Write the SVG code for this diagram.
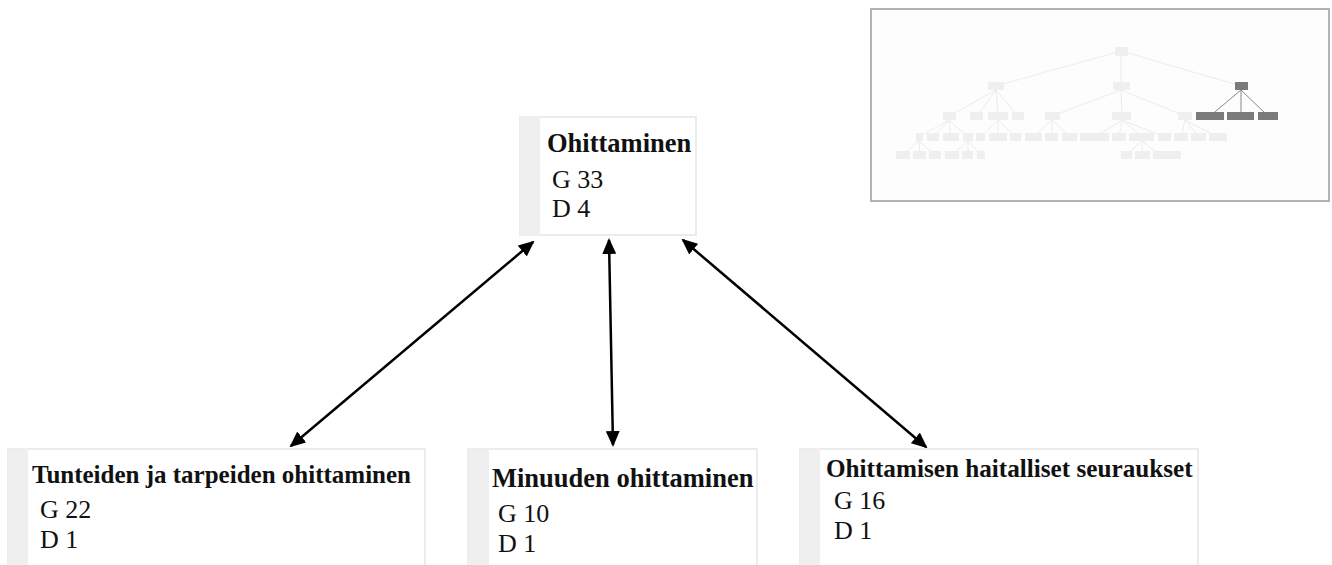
<svg xmlns="http://www.w3.org/2000/svg" width="1332" height="565" viewBox="0 0 1332 565">
<style>
.box{fill:#fff;stroke:#ececec;stroke-width:2}
.strip{fill:#efefef}
.title{font-family:"Liberation Serif",serif;font-weight:bold;fill:#111}
.val{font-family:"Liberation Serif",serif;font-size:26px;fill:#111}
.conn{stroke:#000;stroke-width:2.5;fill:none;marker-start:url(#ah);marker-end:url(#ah)}
.mm-l{fill:#efefef}
.mm-d{fill:#7b7b7b}
.mm-e{stroke:#ececec;stroke-width:1;fill:none}
.mm-ed{stroke:#888;stroke-width:1;fill:none}
</style>
<defs>
<marker id="ah" viewBox="0 0 16 14" refX="14" refY="7" markerWidth="16" markerHeight="14" markerUnits="userSpaceOnUse" orient="auto-start-reverse">
<path d="M0,0 L16,7 L0,14 Z" fill="#000"/>
</marker>
</defs>
<rect width="1332" height="565" fill="#fff"/>

<g id="minimap">
<rect x="871" y="9" width="458" height="192" fill="#fdfdfd" stroke="#b3b3b3" stroke-width="2"/>
<g class="mm-e">
<path d="M1121,51 L996,86 M1121,51 L1121,86 M1121,51 L1241,86"/>
<path d="M996,90 L949,116 M996,90 L977,116 M996,90 L998,116 M996,90 L1018,116"/>
<path d="M949,120 L919,137 M949,120 L933,137 M949,120 L951,137 M949,120 L968,137"/>
<path d="M919,141 L903,155 M919,141 L920,155 M919,141 L935,155"/>
<path d="M968,141 L952,155 M968,141 L968,155 M968,141 L981,155"/>
<path d="M998,120 L981,137 M998,120 L998,137 M998,120 L1016,137"/>
<path d="M1121,90 L1052,116 M1121,90 L1122,116 M1121,90 L1185,116"/>
<path d="M1052,120 L1033,137 M1052,120 L1052,137 M1052,120 L1070,137"/>
<path d="M1122,120 L1095,137 M1122,120 L1119,137 M1122,120 L1142,137 M1122,120 L1165,137"/>
<path d="M1142,141 L1126,155 M1142,141 L1142,155 M1142,141 L1160,155"/>
<path d="M1185,120 L1181,137 M1185,120 L1199,137 M1185,120 L1218,137"/>
</g>
<g class="mm-ed">
<path d="M1241,90 L1210,116 M1241,90 L1241,116 M1241,90 L1268,116"/>
</g>
<g class="mm-l">
<rect x="1115" y="47" width="13" height="9"/>
<rect x="988" y="82" width="16" height="8"/>
<rect x="1113" y="82" width="17" height="8"/>
<rect x="943" y="112" width="13" height="8"/>
<rect x="970" y="112" width="13" height="8"/>
<rect x="988" y="112" width="20" height="8"/>
<rect x="1012" y="112" width="12" height="8"/>
<rect x="1045" y="112" width="15" height="8"/>
<rect x="1112" y="112" width="19" height="8"/>
<rect x="1178" y="112" width="14" height="8"/>
<rect x="916" y="133" width="7" height="8"/>
<rect x="927" y="133" width="12" height="8"/>
<rect x="943" y="133" width="16" height="8"/>
<rect x="963" y="133" width="10" height="8"/>
<rect x="976" y="133" width="9" height="8"/>
<rect x="989" y="133" width="18" height="8"/>
<rect x="1010" y="133" width="11" height="8"/>
<rect x="1025" y="133" width="17" height="8"/>
<rect x="1045" y="133" width="13" height="8"/>
<rect x="1062" y="133" width="15" height="8"/>
<rect x="1080" y="133" width="29" height="8"/>
<rect x="1112" y="133" width="14" height="8"/>
<rect x="1129" y="133" width="25" height="8"/>
<rect x="1158" y="133" width="13" height="8"/>
<rect x="1174" y="133" width="14" height="8"/>
<rect x="1191" y="133" width="15" height="8"/>
<rect x="1209" y="133" width="18" height="8"/>
<rect x="896" y="151" width="14" height="8"/>
<rect x="913" y="151" width="13" height="8"/>
<rect x="929" y="151" width="12" height="8"/>
<rect x="945" y="151" width="14" height="8"/>
<rect x="962" y="151" width="11" height="8"/>
<rect x="977" y="151" width="8" height="8"/>
<rect x="1121" y="151" width="11" height="8"/>
<rect x="1135" y="151" width="15" height="8"/>
<rect x="1153" y="151" width="28" height="8"/>
</g>
<g class="mm-d">
<rect x="1235" y="82" width="13" height="8"/>
<rect x="1196" y="112" width="28" height="8"/>
<rect x="1227" y="112" width="27" height="8"/>
<rect x="1258" y="112" width="20" height="8"/>
</g>
</g>

<g id="connectors">
<line class="conn" x1="533" y1="242" x2="291" y2="446"/>
<line class="conn" x1="609" y1="240" x2="613" y2="445"/>
<line class="conn" x1="683" y1="240" x2="926" y2="447"/>
</g>

<g id="node-ohittaminen">
<rect class="box" x="520" y="117" width="176" height="118"/>
<rect class="strip" x="520" y="117" width="20" height="118"/>
<text class="title" x="547" y="152" font-size="26.5">Ohittaminen</text>
<text class="val" x="552" y="188">G 33</text>
<text class="val" x="552" y="217">D 4</text>
</g>

<g id="node-tunteiden">
<rect class="box" x="8" y="449" width="417" height="130"/>
<rect class="strip" x="8" y="449" width="20" height="130"/>
<text class="title" x="32" y="483" font-size="25">Tunteiden ja tarpeiden ohittaminen</text>
<text class="val" x="40" y="518">G 22</text>
<text class="val" x="40" y="548">D 1</text>
</g>

<g id="node-minuuden">
<rect class="box" x="468" y="449" width="289" height="130"/>
<rect class="strip" x="468" y="449" width="21" height="130"/>
<text class="title" x="492" y="487" font-size="26.5">Minuuden ohittaminen</text>
<text class="val" x="498" y="522">G 10</text>
<text class="val" x="498" y="552">D 1</text>
</g>

<g id="node-haitalliset">
<rect class="box" x="800" y="449" width="398" height="130"/>
<rect class="strip" x="800" y="449" width="20" height="130"/>
<text class="title" x="826" y="477" font-size="25.2">Ohittamisen haitalliset seuraukset</text>
<text class="val" x="834" y="509">G 16</text>
<text class="val" x="834" y="539">D 1</text>
</g>
</svg>
